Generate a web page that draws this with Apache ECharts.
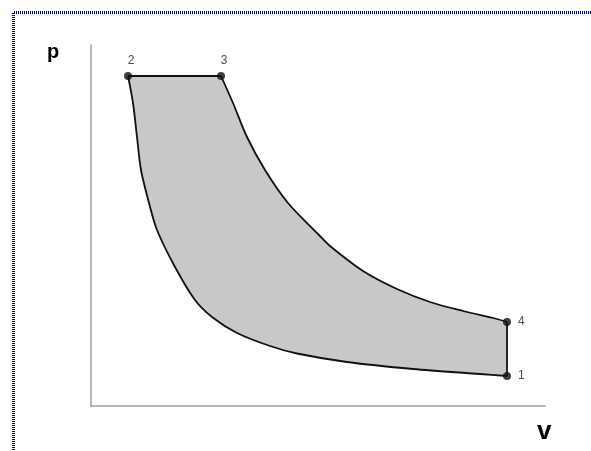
<!DOCTYPE html>
<html>
<head>
<meta charset="utf-8">
<script src="https://cdn.jsdelivr.net/npm/echarts@6/dist/echarts.min.js"></script>
<style>html,body{margin:0;padding:0;background:#fff;}#c{width:591px;height:451px;}</style>
</head>
<body>
<div id="c"></div>
<script>
// Data (arbitrary volume / pressure units)
const topV = [37, 130];
const topP = [330, 330];
const upperV = [130, 142, 156, 174, 197, 228, 239, 272, 306, 339, 372, 406, 416];
const upperP = [330, 303, 269, 236, 203, 171, 160, 135, 117, 104, 95, 87, 84];
const lowerV = [37, 42, 46, 50, 58, 66, 84, 104, 121, 146, 179, 206, 256, 322, 389, 416];
const lowerP = [330, 303, 269, 236, 203, 176, 139, 106, 89, 73, 60, 52.5, 44, 37, 32, 30];
const sideV = [416, 416];
const sideP = [84, 30];
const pointV = [37, 130, 416, 416];
const pointP = [330, 330, 84, 30];
const pointLabels = ['2', '3', '4', '1'];

const zip = (a, b) => a.map((v, i) => [v, b[i]]);
const FILL = '#c8c8c8';
const STROKE = '#111';

const chart = echarts.init(document.getElementById('c'), null, {renderer: 'canvas'});
chart.setOption({
  animation: false,
  backgroundColor: '#fff',
  grid: {left: 91, top: 45, width: 454, height: 361, containLabel: false},
  xAxis: {
    type: 'value', min: 0, max: 454, z: 10,
    axisLine: {show: true, onZero: false, lineStyle: {color: '#a0a0a0', width: 1.5}},
    axisTick: {show: false}, axisLabel: {show: false}, splitLine: {show: false}
  },
  yAxis: {
    type: 'value', min: 0, max: 361, z: 10,
    axisLine: {show: true, onZero: false, lineStyle: {color: '#a0a0a0', width: 1.5}},
    axisTick: {show: false}, axisLabel: {show: false}, splitLine: {show: false}
  },
  graphic: [
    {type: 'polyline', silent: true, z: 100,
     shape: {points: [[13.5, 460], [13.5, 12.5], [600, 12.5]]},
     style: {stroke: '#000080', lineWidth: 3, lineDash: [1, 1], fill: null}},
    {type: 'text', left: 47, top: 42, z: 100,
     style: {text: 'p', font: 'bold 20px "Liberation Sans", Arial, sans-serif', fill: '#000'}},
    {type: 'text', left: 537, top: 419, z: 100,
     style: {text: 'v', font: 'bold 26px "Liberation Sans", Arial, sans-serif', fill: '#000'}}
  ],
  series: [
    {type: 'line', data: zip(topV, topP), symbol: 'none', z: 2,
     lineStyle: {color: STROKE, width: 1.8}, areaStyle: {color: FILL, opacity: 1}},
    {type: 'line', data: zip(upperV, upperP), symbol: 'none', smooth: 0.3, z: 2,
     lineStyle: {color: STROKE, width: 1.8}, areaStyle: {color: FILL, opacity: 1}},
    {type: 'line', data: zip(lowerV, lowerP), symbol: 'none', smooth: 0.3, z: 3,
     lineStyle: {color: STROKE, width: 1.8}, areaStyle: {color: '#fff', opacity: 1}},
    {type: 'line', data: zip(sideV, sideP), symbol: 'none', z: 4,
     lineStyle: {color: STROKE, width: 1.8}},
    {type: 'scatter', z: 5, symbol: 'circle', symbolSize: 8,
     itemStyle: {color: '#111'},
     data: pointV.map((v, i) => ({
       value: [v, pointP[i]],
       label: {
         show: true, formatter: pointLabels[i],
         position: i < 2 ? 'top' : 'right',
         distance: i < 2 ? 5 : 7,
         offset: i < 2 ? [3, 0] : [0, 0],
         fontSize: 12, color: '#222',
         fontFamily: '"Liberation Sans", Arial, sans-serif'
       }
     }))}
  ]
});
</script>
</body>
</html>
